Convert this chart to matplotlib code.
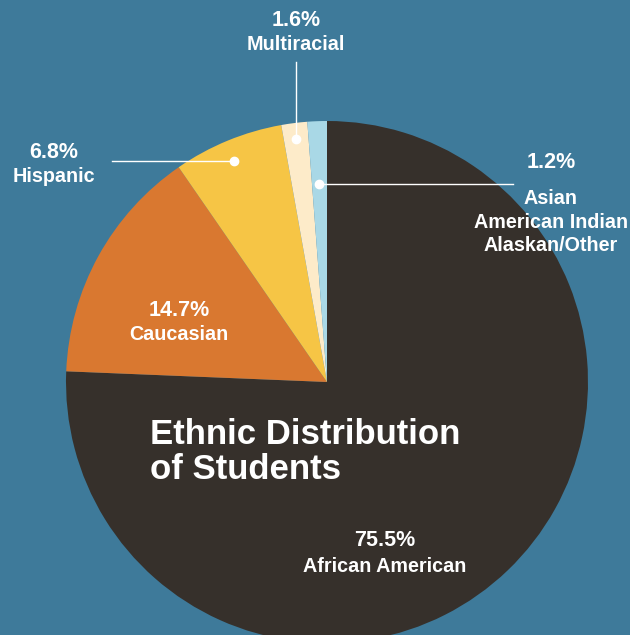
import numpy as np
import matplotlib
matplotlib.use('Agg')
import matplotlib.pyplot as plt

groups = ['African American', 'Caucasian', 'Hispanic', 'Multiracial',
          'Asian\nAmerican Indian\nAlaskan/Other']
shares = [75.5, 14.7, 6.8, 1.6, 1.2]
colors = ['#36302b', '#d97830', '#f6c545', '#fdebc9', '#a9d8e6']
bg = '#3e7a9a'

plt.rcParams['font.family'] = ['Liberation Sans', 'DejaVu Sans']

W, H = 630, 635
fig = plt.figure(figsize=(W / 100, H / 100), dpi=100, facecolor=bg)
ax = fig.add_axes([0, 0, 1, 1])
ax.set_facecolor(bg)

# pie centre / radius in pixel units (y measured from bottom)
cx, cy, r = 327, H - 382, 261
wedges, _ = ax.pie(shares, colors=colors, startangle=90, counterclock=False,
                   center=(cx, cy), radius=r, frame=True,
                   wedgeprops=dict(linewidth=0))
ax.set_xlim(0, W)
ax.set_ylim(0, H)
ax.axis('off')

def anchor(w, frac, t=0.5):
    ang = np.radians(w.theta1 + t * (w.theta2 - w.theta1))
    return cx + frac * r * np.cos(ang), cy + frac * r * np.sin(ang)

def pct(v):
    return f'{v:.1f}%'

fs_pct = 15.5
fs_name = 14.2
pt = dict(color='white', fontweight='bold', fontsize=fs_pct, ha='center', va='center')
nm = dict(color='white', fontweight='bold', fontsize=fs_name, ha='center', va='center')

# labels inside the big slices
ax.text(385, H - 541, pct(shares[0]), **pt)
ax.text(385, H - 567, groups[0], **nm)
ax.text(179, H - 311, pct(shares[1]), **pt)
ax.text(179, H - 335, groups[1], **nm)

# leader lines + dots for the small slices
hx, hy = anchor(wedges[2], 0.92, 0.52)
ax.plot([112, hx], [hy, hy], color='white', lw=1, zorder=3)
ax.plot(hx, hy, 'o', color='white', ms=6, zorder=4)
ax.text(54, H - 152, pct(shares[2]), **pt)
ax.text(54, H - 176, groups[2], **nm)

mx, my = anchor(wedges[3], 0.94, 0.5)
ax.plot([mx, mx], [my, H - 62], color='white', lw=1, zorder=3)
ax.plot(mx, my, 'o', color='white', ms=6, zorder=4)
ax.text(mx, H - 20, pct(shares[3]), **pt)
ax.text(mx, H - 45, groups[3], **nm)

ax_, ay_ = anchor(wedges[4], 0.76, 0.55)
ax.plot([ax_, 513], [ay_, ay_], color='white', lw=1, zorder=3)
ax.plot(ax_, ay_, 'o', color='white', ms=6, zorder=4)
ax.text(551, H - 163, pct(shares[4]), **pt)
ax.text(551, H - 222, groups[4], linespacing=1.3, **nm)

ax.text(150, H - 452, 'Ethnic Distribution\nof Students', color='white',
        fontweight='bold', fontsize=25, ha='left', va='center', linespacing=1.05)

fig.savefig('out.png', dpi=100, facecolor=bg)
